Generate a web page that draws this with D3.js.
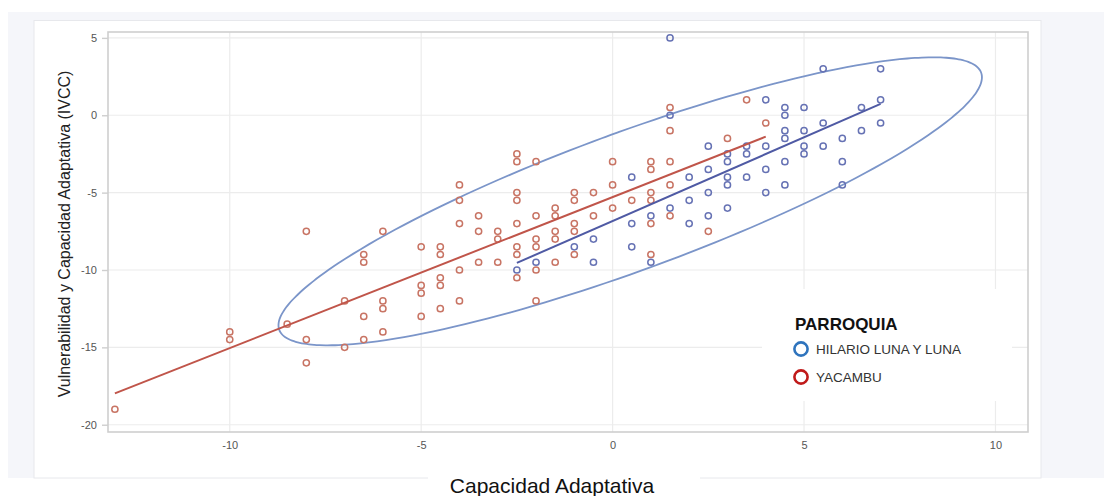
<!DOCTYPE html>
<html>
<head>
<meta charset="utf-8">
<script src="https://cdn.jsdelivr.net/npm/d3@7"></script>
<style>
  html, body { margin: 0; padding: 0; background: #fff; }
  svg { display: block; font-family: "Liberation Sans", Arial, sans-serif; }
</style>
</head>
<body>
<svg id="chart" width="1104" height="496"></svg>
<script>
// ── data ────────────────────────────────────────────────────
const SERIES = ['HILARIO LUNA Y LUNA', 'YACAMBU'];

// YACAMBU  [x, y]
const yacambu = [
  [-13, -19],
  [-10, -14], [-10, -14.5],
  [-8.5, -13.5],
  [-8, -7.5], [-8, -14.5], [-8, -16],
  [-7, -12], [-7, -15],
  [-6.5, -9], [-6.5, -9.5], [-6.5, -13], [-6.5, -14.5],
  [-6, -7.5], [-6, -12], [-6, -12.5], [-6, -14],
  [-5, -8.5], [-5, -11], [-5, -11.5], [-5, -13],
  [-4.5, -8.5], [-4.5, -9], [-4.5, -10.5], [-4.5, -11], [-4.5, -12.5],
  [-4, -4.5], [-4, -5.5], [-4, -7], [-4, -10], [-4, -12],
  [-3.5, -6.5], [-3.5, -7.5], [-3.5, -9.5],
  [-3, -7.5], [-3, -8], [-3, -9.5],
  [-2.5, -2.5], [-2.5, -3], [-2.5, -5], [-2.5, -5.5], [-2.5, -7], [-2.5, -8.5], [-2.5, -9], [-2.5, -10.5],
  [-2, -3], [-2, -6.5], [-2, -8], [-2, -8.5], [-2, -10], [-2, -12],
  [-1.5, -6], [-1.5, -6.5], [-1.5, -7.5], [-1.5, -8], [-1.5, -9.5],
  [-1, -5], [-1, -5.5], [-1, -7], [-1, -7.5], [-1, -9],
  [-0.5, -5], [-0.5, -6.5],
  [0, -3], [0, -4.5], [0, -6],
  [0.5, -5.5],
  [1, -3], [1, -3.5], [1, -5], [1, -5.5], [1, -7], [1, -9],
  [1.5, 0.5], [1.5, -1], [1.5, -3], [1.5, -4.5], [1.5, -6.5],
  [2.5, -7.5],
  [3, -1.5],
  [3.5, 1],
  [4, -0.5]
];

// HILARIO LUNA Y LUNA  [x, y]
const hilario = [
  [-2.5, -10],
  [-2, -9.5],
  [-1, -8.5],
  [-0.5, -8], [-0.5, -9.5],
  [0.5, -4], [0.5, -7], [0.5, -8.5],
  [1, -6.5], [1, -9.5],
  [1.5, 5], [1.5, 0], [1.5, -6],
  [2, -4], [2, -5.5], [2, -7],
  [2.5, -2], [2.5, -3.5], [2.5, -5], [2.5, -6.5],
  [3, -2.5], [3, -3], [3, -4], [3, -4.5], [3, -6],
  [3.5, -2], [3.5, -2.5], [3.5, -4],
  [4, 1], [4, -2], [4, -3.5], [4, -5],
  [4.5, 0.5], [4.5, 0], [4.5, -1], [4.5, -1.5], [4.5, -3], [4.5, -4.5],
  [5, 0.5], [5, -1], [5, -2], [5, -2.5],
  [5.5, 3], [5.5, -0.5], [5.5, -2],
  [6, -1.5], [6, -3], [6, -4.5],
  [6.5, 0.5], [6.5, -1],
  [7, 3], [7, 1], [7, -0.5]
];

// 95% ellipse: centre, scaled covariance (sxx, sxy, syy)
const ellipseCentre = [0.46, -5.56];
const ellipseCov = [84.4, 73.6, 86.6];

const xTicks = [-10, -5, 0, 5, 10];
const yTicks = [5, 0, -5, -10, -15, -20];

// ── layout ───────────────────────────────────────────────────
const svg = d3.select('#chart');
const plot = { left: 108, right: 1028, top: 32, bottom: 432 };

const x = d3.scaleLinear().domain([-13.18, 10.85]).range([plot.left, plot.right]);
const y = d3.scaleLinear().domain([-20.47, 5.38]).range([plot.bottom, plot.top]);

const COL = {
  hilario: '#6672b4',
  yacambu: '#c87464',
  hilFit: '#4f5aa4',
  yacFit: '#c0554a',
  ellipse: '#7b95c9',
  grid: '#ececec',
  frame: '#cfcfcf'
};

// page background panels
svg.append('rect').attr('x', 8).attr('y', 12).attr('width', 1096).attr('height', 466).attr('fill', '#f5f6fa');
svg.append('rect').attr('x', 34).attr('y', 20.5).attr('width', 1007).attr('height', 457.5)
  .attr('fill', '#fff').attr('stroke', '#e7e8ec').attr('stroke-width', 1);

// grid
const g = svg.append('g');
g.selectAll('.gx').data(xTicks).join('line')
  .attr('x1', d => x(d)).attr('x2', d => x(d))
  .attr('y1', plot.top).attr('y2', plot.bottom)
  .attr('stroke', COL.grid).attr('stroke-width', 1.2);
g.selectAll('.gy').data(yTicks).join('line')
  .attr('x1', plot.left).attr('x2', plot.right)
  .attr('y1', d => y(d)).attr('y2', d => y(d))
  .attr('stroke', COL.grid).attr('stroke-width', 1.2);

// frame
svg.append('rect')
  .attr('x', plot.left).attr('y', plot.top)
  .attr('width', plot.right - plot.left).attr('height', plot.bottom - plot.top)
  .attr('fill', 'none').attr('stroke', COL.frame).attr('stroke-width', 1.6);

// axes (ticks + labels only, the frame draws the lines)
const fmt = d => String(d);
const yAxis = svg.append('g').attr('transform', `translate(${plot.left},0)`)
  .call(d3.axisLeft(y).tickValues(yTicks).tickFormat(fmt).tickSize(6).tickPadding(5));
const xAxis = svg.append('g').attr('transform', `translate(0,${plot.bottom})`)
  .call(d3.axisBottom(x).tickValues(xTicks).tickFormat(fmt).tickSize(0).tickPadding(9));
[xAxis, yAxis].forEach(a => {
  a.select('.domain').remove();
  a.selectAll('.tick line').attr('stroke', COL.frame).attr('stroke-width', 1.4);
  a.selectAll('.tick text')
    .attr('font-family', '"Liberation Sans", Arial, sans-serif')
    .attr('font-size', 11).attr('fill', '#555');
});

// ── least-squares fit per group ─────────────────────────────
function fit(pts) {
  const mx = d3.mean(pts, d => d[0]), my = d3.mean(pts, d => d[1]);
  const sxy = d3.sum(pts, d => (d[0] - mx) * (d[1] - my));
  const sxx = d3.sum(pts, d => (d[0] - mx) ** 2);
  const b = sxy / sxx, a = my - b * mx;
  const [x0, x1] = d3.extent(pts, d => d[0]);
  return [[x0, a + b * x0], [x1, a + b * x1]];
}

// ellipse outline from centre + covariance (Cholesky form)
function ellipsePts(c, cov) {
  const l11 = Math.sqrt(cov[0]), l21 = cov[1] / l11, l22 = Math.sqrt(cov[2] - l21 * l21);
  return d3.range(0, 360, 2).map(t => {
    const r = t * Math.PI / 180;
    return [c[0] + l11 * Math.cos(r), c[1] + l21 * Math.cos(r) + l22 * Math.sin(r)];
  });
}

const line = d3.line().x(d => x(d[0])).y(d => y(d[1]));
const closed = d3.line().x(d => x(d[0])).y(d => y(d[1])).curve(d3.curveCardinalClosed);

svg.append('path')
  .attr('d', closed(ellipsePts(ellipseCentre, ellipseCov)))
  .attr('fill', 'none').attr('stroke', COL.ellipse).attr('stroke-width', 1.8);

// points
const dots = svg.append('g');
dots.selectAll('.yac').data(yacambu).join('circle')
  .attr('cx', d => x(d[0])).attr('cy', d => y(d[1])).attr('r', 3.1)
  .attr('fill', 'none').attr('stroke', COL.yacambu).attr('stroke-width', 1.5);
dots.selectAll('.hil').data(hilario).join('circle')
  .attr('cx', d => x(d[0])).attr('cy', d => y(d[1])).attr('r', 3.1)
  .attr('fill', 'none').attr('stroke', COL.hilario).attr('stroke-width', 1.5);

// fit lines
svg.append('path').attr('d', line(fit(yacambu)))
  .attr('fill', 'none').attr('stroke', COL.yacFit).attr('stroke-width', 2);
svg.append('path').attr('d', line(fit(hilario)))
  .attr('fill', 'none').attr('stroke', COL.hilFit).attr('stroke-width', 2);

// ── legend ───────────────────────────────────────────────────
const leg = svg.append('g');
leg.append('rect').attr('x', 762).attr('y', 289).attr('width', 250).attr('height', 112).attr('fill', '#fff');
leg.append('text').attr('x', 795).attr('y', 330)
  .attr('font-size', 17).attr('font-weight', 'bold').attr('fill', '#111').text('PARROQUIA');
const legCols = ['#2f74bd', '#c01a1a'];
SERIES.forEach((s, i) => {
  const cy = 349 + i * 28;
  leg.append('circle').attr('cx', 801).attr('cy', cy).attr('r', 6.6)
    .attr('fill', 'none').attr('stroke', legCols[i]).attr('stroke-width', 2.6);
  leg.append('text').attr('x', 816).attr('y', cy + 5)
    .attr('font-size', 13.5).attr('fill', '#333').text(s);
});

// ── titles ───────────────────────────────────────────────────
svg.append('text')
  .attr('transform', 'translate(70,234) rotate(-90)')
  .attr('text-anchor', 'middle').attr('font-size', 16).attr('fill', '#222')
  .text('Vulnerabilidad y Capacidad Adaptativa (IVCC)');

svg.append('rect').attr('x', 428).attr('y', 476).attr('width', 272).attr('height', 20).attr('fill', '#fff');
svg.append('text')
  .attr('x', 552).attr('y', 493).attr('text-anchor', 'middle')
  .attr('font-size', 21).attr('fill', '#111')
  .text('Capacidad Adaptativa');
</script>
</body>
</html>
